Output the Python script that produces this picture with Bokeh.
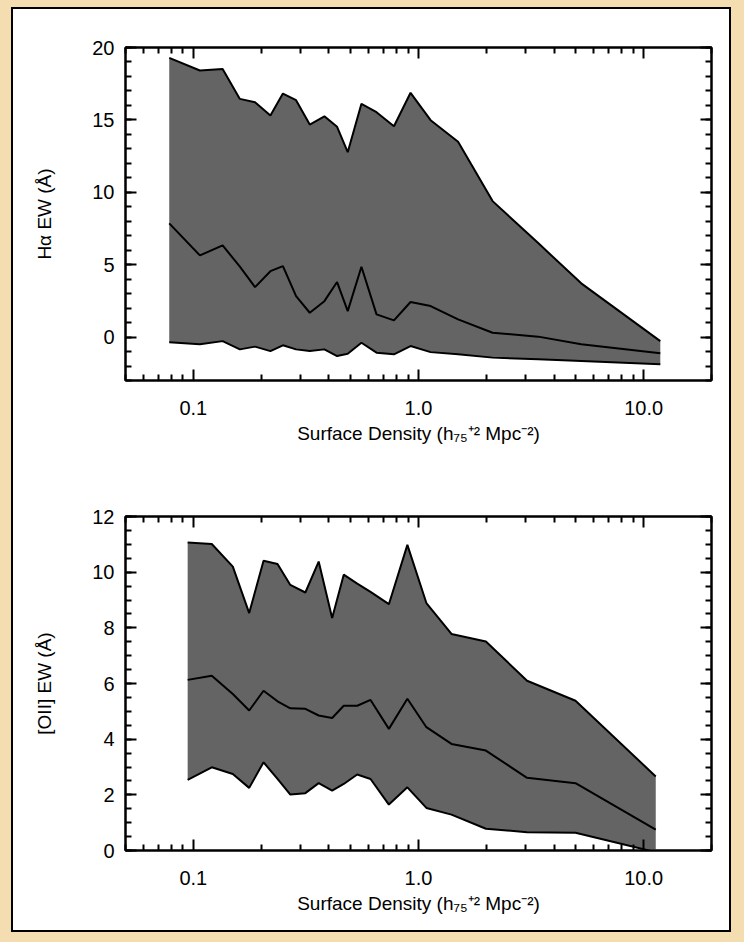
from bokeh.plotting import figure
from bokeh.models import LogAxis, LinearAxis, FixedTicker, Range1d, CustomJSTickFormatter
from bokeh.layouts import column
from bokeh.embed import file_html
from bokeh.resources import INLINE

# ---------------- data ----------------
ha_density = [0.0782, 0.107, 0.135, 0.161, 0.188, 0.220, 0.250, 0.286, 0.329, 0.382, 0.435,
              0.485, 0.558, 0.651, 0.778, 0.922, 1.132, 1.499, 2.133, 3.40, 5.28, 11.85]
ha_upper = [19.28, 18.41, 18.52, 16.45, 16.22, 15.30, 16.82, 16.36, 14.68, 15.25, 14.52,
            12.77, 16.11, 15.53, 14.56, 16.87, 14.98, 13.49, 9.39, 6.49, 3.71, -0.28]
ha_median = [7.85, 5.64, 6.33, 4.86, 3.45, 4.55, 4.90, 2.83, 1.68, 2.48, 3.80,
             1.79, 4.86, 1.57, 1.15, 2.42, 2.14, 1.22, 0.30, 0.03, -0.50, -1.12]
ha_lower = [-0.35, -0.50, -0.28, -0.85, -0.66, -0.97, -0.57, -0.85, -0.97, -0.85, -1.31,
            -1.15, -0.39, -1.08, -1.19, -0.62, -1.04, -1.19, -1.42, -1.54, -1.66, -1.88]

oii_density = [0.0944, 0.1208, 0.1498, 0.1771, 0.2051, 0.2366, 0.2697, 0.3145, 0.3604, 0.4136,
               0.4656, 0.5345, 0.6124, 0.7387, 0.8925, 1.084, 1.401, 1.992, 3.034, 4.98, 11.31]
oii_upper = [11.07, 11.01, 10.20, 8.53, 10.41, 10.29, 9.54, 9.27, 10.38, 8.35,
             9.91, 9.59, 9.29, 8.85, 10.98, 8.89, 7.78, 7.51, 6.10, 5.38, 2.66]
oii_median = [6.13, 6.28, 5.62, 5.03, 5.74, 5.36, 5.11, 5.09, 4.85, 4.76,
              5.20, 5.20, 5.41, 4.37, 5.45, 4.43, 3.83, 3.59, 2.61, 2.42, 0.75]
oii_lower = [2.54, 2.99, 2.75, 2.25, 3.17, 2.57, 2.01, 2.06, 2.42, 2.15,
             2.39, 2.73, 2.57, 1.65, 2.27, 1.53, 1.29, 0.78, 0.66, 0.64, -0.06]

x_major = [0.1, 1.0, 10.0]
x_minor = [0.05, 0.06, 0.07, 0.08, 0.09, 0.2, 0.3, 0.4, 0.5, 0.6, 0.7, 0.8, 0.9,
           2, 3, 4, 5, 6, 7, 8, 9, 20]
x_title = "Surface Density (h\u2087\u2085\u207a\u00b2 Mpc\u207b\u00b2)"

ha_yticks = [0, 5, 10, 15, 20]
ha_yminor = list(range(-3, 21))
oii_yticks = [0, 2, 4, 6, 8, 10, 12]
oii_yminor = [i * 0.5 for i in range(0, 25)]

FONT = "Liberation Sans"
FS_TICK = "20px"
FS_TITLE = "19px"
FILL = "#646464"


def style_axis(ax, show_labels):
    ax.axis_line_color = "black"
    ax.axis_line_width = 2
    ax.major_tick_line_color = "black"
    ax.major_tick_line_width = 2
    ax.minor_tick_line_color = "black"
    ax.minor_tick_line_width = 2
    ax.major_tick_in = 11
    ax.major_tick_out = 0
    ax.minor_tick_in = 6
    ax.minor_tick_out = 0
    ax.major_label_text_font = FONT
    ax.major_label_text_color = "black"
    ax.axis_label_text_font = FONT
    ax.axis_label_text_font_style = "normal"
    ax.axis_label_text_color = "black"
    ax.axis_label_text_font_size = FS_TITLE
    if show_labels:
        ax.major_label_text_font_size = FS_TICK
    else:
        ax.major_label_text_font_size = "0px"
        ax.major_label_standoff = 0
        ax.formatter = CustomJSTickFormatter(code="return ''")


def make_panel(x, lo, mid, hi, ylabel, yr, yticks, yminor, height, top, bottom):
    p = figure(width=716, height=height, x_axis_type="log",
               x_range=Range1d(0.05, 20), y_range=Range1d(*yr),
               output_backend="svg", toolbar_location=None,
               min_border_left=112, min_border_right=18,
               min_border_top=top, min_border_bottom=bottom,
               background_fill_color="white", border_fill_color="white",
               outline_line_color="black", outline_line_width=2)
    p.grid.visible = False

    p.varea(x=x, y1=lo, y2=hi, fill_color=FILL, fill_alpha=1.0)
    for ys in (hi, mid, lo):
        p.line(x=x, y=ys, line_color="black", line_width=2)

    xt = FixedTicker(ticks=x_major, minor_ticks=x_minor)
    yt = FixedTicker(ticks=yticks, minor_ticks=yminor)

    xa = p.xaxis[0]
    xa.ticker = xt
    xa.formatter = CustomJSTickFormatter(code="return tick.toFixed(1);")
    style_axis(xa, True)
    xa.axis_label = x_title
    xa.major_label_standoff = 20
    xa.axis_label_standoff = 5

    ya = p.yaxis[0]
    ya.ticker = yt
    style_axis(ya, True)
    ya.axis_label = ylabel
    ya.major_label_standoff = 11
    ya.axis_label_standoff = 34

    xa2 = LogAxis(ticker=xt)
    style_axis(xa2, False)
    p.add_layout(xa2, "above")
    ya2 = LinearAxis(ticker=yt)
    style_axis(ya2, False)
    p.add_layout(ya2, "right")
    return p


p1 = make_panel(ha_density, ha_lower, ha_median, ha_upper, "H\u03b1 EW (\u00c5)",
                (-3, 20), ha_yticks, ha_yminor, 457, 38, 86)
p2 = make_panel(oii_density, oii_lower, oii_median, oii_upper, "[OII] EW (\u00c5)",
                (0, 12), oii_yticks, oii_yminor, 464, 50, 80)

inner = column(p1, p2, styles={"background-color": "white", "border": "2px solid black"})
outer = column(inner, styles={"background-color": "#f4deb1",
                              "padding": "7px 13px 10px 11px"})

open("out.html", "w").write(file_html(outer, INLINE))
